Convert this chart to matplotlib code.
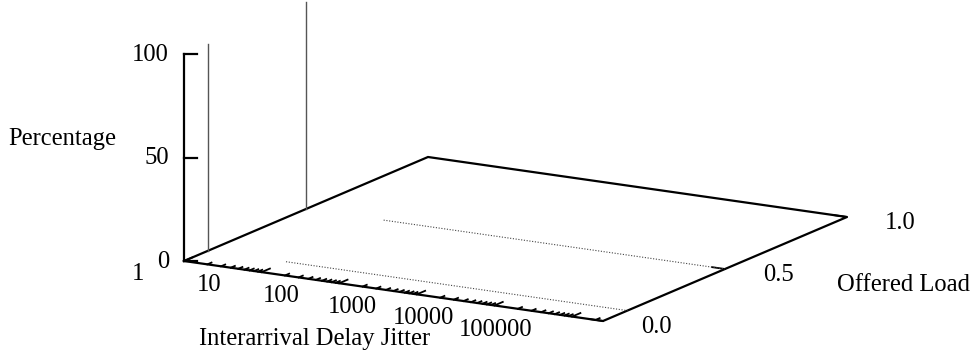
import numpy as np
import matplotlib
matplotlib.use("Agg")
import matplotlib.pyplot as plt

# values
jitter = [1, 10, 100, 1000, 10000, 100000, 1000000]
offered_load = [0.1, 0.5]
percentage = {
    0.1: [100, 0, 0, 0, 0, 0, 0],
    0.5: [100, 0, 0, 0, 0, 0, 0],
}

x_range = (1, 2.5e5)
y_range = (0.0, 1.0)
z_range = (0, 100)
x_major = [1, 10, 100, 1000, 10000, 100000]
x_labels = ["1", "10", "100", "1000", "10000", "100000"]
y_ticks = [0.0, 0.5, 1.0]
y_labels = ["0.0", "0.5", "1.0"]
z_ticks = [0, 50, 100]
z_labels = ["0", "50", "100"]

# gnuplot-like view, in figure pixels
W, H = 974, 351
ORIGIN = np.array([184.0, 261.0])
EX = np.array([419.0, 60.0])    # full x range
EY = np.array([244.0, -104.0])  # full y range
EZ = np.array([0.0, -207.0])    # full z range

plt.rcParams["font.family"] = ["Liberation Serif", "DejaVu Serif"]
FS = 17.7
LW = 1.6


def proj(x, y, z):
    lx0, lx1 = np.log10(x_range[0]), np.log10(x_range[1])
    fx = (np.log10(np.asarray(x, float)) - lx0) / (lx1 - lx0)
    fy = (np.asarray(y, float) - y_range[0]) / (y_range[1] - y_range[0])
    fz = (np.asarray(z, float) - z_range[0]) / (z_range[1] - z_range[0])
    px = ORIGIN[0] + fx * EX[0] + fy * EY[0] + fz * EZ[0]
    py = ORIGIN[1] + fx * EX[1] + fy * EY[1] + fz * EZ[1]
    return px, py


fig = plt.figure(figsize=(W / 100, H / 100), dpi=100)
ax = fig.add_axes([0, 0, 1, 1])
ax.set_xlim(0, W)
ax.set_ylim(H, 0)
ax.axis("off")

xa, xb = x_range
ya, yb = y_range
za, zb = z_range

# floor box
cx = [xa, xb, xb, xa, xa]
cy = [ya, ya, yb, yb, ya]
px, py = proj(cx, cy, [za] * 5)
ax.plot(px, py, color="black", lw=LW, solid_joinstyle="miter")

# z axis
px, py = proj([xa, xa], [ya, ya], [za, zb])
ax.plot(px, py, color="black", lw=LW)
for t, lab in zip(z_ticks, z_labels):
    tx, ty = proj(xa, ya, t)
    ax.plot([tx, tx + 13], [ty, ty], color="black", lw=LW)
    ax.text(tx - 15, ty + 1, lab, ha="right", va="center", fontsize=FS)

# x ticks (log, with minors), drawn toward the back
ey_unit = EY / np.linalg.norm(EY)
for dec in range(0, 6):
    for m in range(1, 10):
        v = m * 10 ** dec
        if v > xb:
            break
        tx, ty = proj(v, ya, za)
        ln = 9 if m == 1 else 4.5
        ax.plot([tx, tx + ey_unit[0] * ln], [ty, ty + ey_unit[1] * ln],
                color="black", lw=1.3)
for v, lab in zip(x_major, x_labels):
    tx, ty = proj(v, ya, za)
    ax.text(tx - 40, ty + 13, lab, ha="right", va="center", fontsize=FS)

# y ticks on the right edge
ex_unit = EX / np.linalg.norm(EX)
for v, lab in zip(y_ticks, y_labels):
    tx, ty = proj(xb, v, za)
    ax.plot([tx, tx - ex_unit[0] * 13], [ty, ty - ex_unit[1] * 13],
            color="black", lw=1.3)
    ax.text(tx + 53, ty + 6, lab, ha="center", va="center", fontsize=FS)

# data: non-zero values as impulses, zero values as a dotted floor line
for load in offered_load:
    pct = np.array(percentage[load], float)
    xs = np.clip(np.array(jitter, float), xa, xb)
    for xv, zv in zip(xs, pct):
        if zv > 0:
            px, py = proj([xv, xv], [load, load], [za, zv])
            ax.plot(px, py, color="#555555", lw=1.0)
    zero = pct == 0
    px, py = proj(xs[zero], [load] * zero.sum(), pct[zero])
    ax.plot(px, py, color="#444444", lw=0.8, linestyle=(0, (1, 1.5)))

# axis titles
ax.text(8, 139, "Percentage", ha="left", va="center", fontsize=FS)
ax.text(315, 338.5, "Interarrival Delay Jitter", ha="center", va="center", fontsize=FS)
ax.text(837, 285, "Offered Load", ha="left", va="center", fontsize=FS)

fig.savefig("out.png", dpi=100)
